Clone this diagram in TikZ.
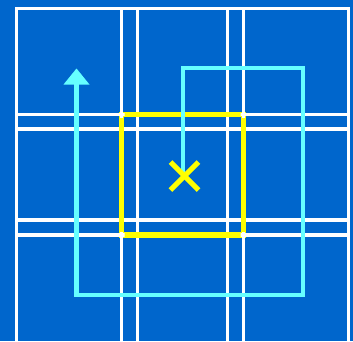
\documentclass[tikz,border=0pt]{standalone}
\definecolor{bgblue}{HTML}{0066CC}
\definecolor{cyanline}{HTML}{66FFFF}
\definecolor{yel}{HTML}{FFFF00}
\tikzset{
  gridline/.style={draw=white, line width=3.5pt},
  pathline/.style={draw=cyanline, line width=4.5pt, line join=miter},
  boxline/.style={draw=yel, line width=5.5pt, line join=miter},
}
\begin{document}
\begin{tikzpicture}[x=1pt,y=-1pt]
\fill[bgblue] (0,0) rectangle (353,341);
\useasboundingbox (0,0) rectangle (353,341);
% grid
\foreach \x in {16.5,121.5,137.5,227.5,243.5,348.5}
  \draw[gridline] (\x,7) -- (\x,341);
\foreach \y in {8.5,114.5,129,220,235}
  \draw[gridline] (15,\y) -- (350,\y);
% yellow square
\draw[boxline] (121.5,114.5) rectangle (243.5,235);
% white crossings over the yellow corners
\foreach \cx/\cy in {121.5/114.5, 243.5/114.5, 121.5/235, 243.5/235}{
  \begin{scope}
    \clip (\cx-3,\cy-3) rectangle (\cx+3,\cy+3);
    \draw[gridline] (\cx,7) -- (\cx,341);
    \draw[gridline] (15,\cy) -- (350,\cy);
  \end{scope}
}
% cyan path
\coordinate (start) at (183,175);
\coordinate (c1) at (183,68);
\coordinate (c2) at (303,68);
\coordinate (c3) at (303,295);
\coordinate (c4) at (76.5,295);
\coordinate (c5) at (76.5,84);
\draw[pathline] (start) -- (c1) -- (c2) -- (c3) -- (c4) -- (c5);
\fill[cyanline] (76.5,68.5) -- (89.5,84.5) -- (63.5,84.5) -- cycle;
% yellow X
\draw[yel, line width=5pt] (170.5,162) -- (198.5,190);
\draw[yel, line width=5pt] (198.5,162) -- (170.5,190);
\end{tikzpicture}
\end{document}
